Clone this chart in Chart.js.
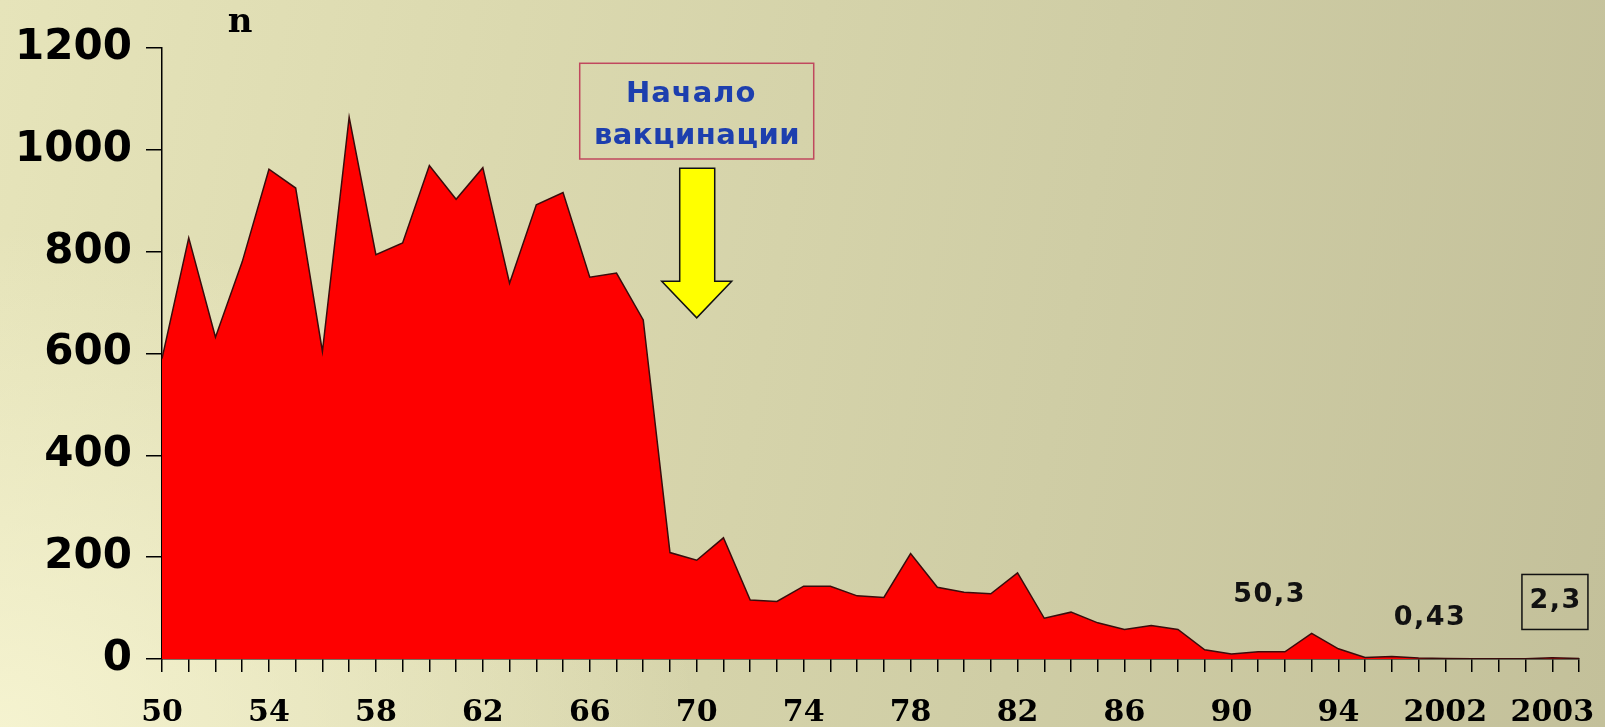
<!DOCTYPE html>
<html>
<head>
<meta charset="utf-8">
<script src="https://cdn.jsdelivr.net/npm/chart.js@4.4.1/dist/chart.umd.min.js"></script>
<style>
html, body { margin: 0; padding: 0; }
body {
    width: 1605px; height: 727px; overflow: hidden;
    background:
        radial-gradient(ellipse 700px 500px at 0% 100%, rgba(248, 246, 212, 0.85), rgba(248, 246, 212, 0) 100%),
        linear-gradient(100deg, #e6e4ba 0%, #dbd9af 30%, #cfcda5 65%, #c3c09a 100%);
}
#wrap { position: relative; width: 1605px; height: 727px; }
</style>
</head>
<body>
<div id="wrap"><canvas id="chart"></canvas></div>
<script>
// years on the axis (labels shown every 4th position, as in the slide)
const categories = [
    '50', '51', '52', '53', '54', '55', '56', '57', '58', '59',
    '60', '61', '62', '63', '64', '65', '66', '67', '68', '69',
    '70', '71', '72', '73', '74', '75', '76', '77', '78', '79',
    '80', '81', '82', '83', '84', '85', '86', '87', '88', '89',
    '90', '91', '92', '93', '94', '95', '96', '97',
    '2002', '', '', '', '2003', ''
];
const labelEvery = 4;

// cases, n
const cases = [
    590, 827, 632, 780, 962, 925, 604, 1064, 794, 817,
    969, 903, 965, 738, 892, 916, 750, 758, 666, 209,
    194, 238, 116, 113, 143, 143, 124, 121, 207, 141,
    131, 128, 169, 80, 92, 71, 58, 66, 58, 18,
    10, 14, 14, 50.3, 20, 3, 5, 2,
    1, 0.5, 0.43, 0.5, 2.3, 1
];

const yMin = 0;
const yMax = 1200;
const yStep = 200;

// notes on the chart: [text, category index, value]
const notes = [
    ['50,3', 41.4, 126],
    ['0,43', 47.4, 81]
];
const boxedNote = ['2,3', 52.1, 113];
const vaccStart = 20; // index where vaccination started

function spacedText(ctx, text, cx, cy, gap) {
    const w = ctx.measureText(text).width + gap * (text.length - 1);
    let x = cx - w / 2;
    ctx.textAlign = 'left';
    for (const ch of text) {
        ctx.fillText(ch, x, cy);
        x += ctx.measureText(ch).width + gap;
    }
}

const annotations = {
    id: 'annotations',
    afterDraw(chart) {
        const ctx = chart.ctx;
        const xs = chart.scales.x;
        const ys = chart.scales.y;
        const area = chart.chartArea;
        ctx.save();
        ctx.textBaseline = 'middle';

        // axis name
        ctx.fillStyle = '#000';
        ctx.font = 'bold 34px "DejaVu Serif"';
        ctx.textAlign = 'center';
        ctx.fillText('n', area.left + 78, area.top - 25);

        // boxed caption
        const cx = xs.getPixelForValue(vaccStart);
        const bTop = ys.getPixelForValue(1170);
        const bBot = ys.getPixelForValue(982);
        ctx.strokeStyle = '#c0485e';
        ctx.lineWidth = 1.5;
        ctx.strokeRect(cx - 117, bTop, 234, bBot - bTop);
        ctx.fillStyle = '#1d3fae';
        ctx.font = 'bold 29px "DejaVu Sans"';
        spacedText(ctx, 'Начало', cx - 6, ys.getPixelForValue(1108), 1);
        spacedText(ctx, 'вакцинации', cx, ys.getPixelForValue(1026), 0.5);

        // arrow
        const sTop = ys.getPixelForValue(964);
        const hBase = ys.getPixelForValue(742);
        const tip = ys.getPixelForValue(670);
        ctx.beginPath();
        ctx.moveTo(cx - 17, sTop);
        ctx.lineTo(cx + 18, sTop);
        ctx.lineTo(cx + 18, hBase);
        ctx.lineTo(cx + 35, hBase);
        ctx.lineTo(cx, tip);
        ctx.lineTo(cx - 35, hBase);
        ctx.lineTo(cx - 17, hBase);
        ctx.closePath();
        ctx.fillStyle = '#ffff00';
        ctx.fill();
        ctx.strokeStyle = '#111';
        ctx.lineWidth = 1.5;
        ctx.stroke();

        // value notes
        ctx.fillStyle = '#111';
        ctx.font = 'bold 27px "DejaVu Sans"';
        for (const [t, i, v] of notes) {
            spacedText(ctx, t, xs.getPixelForValue(i), ys.getPixelForValue(v), 1.5);
        }
        const [bt, bi, bv] = boxedNote;
        const bx = xs.getPixelForValue(bi);
        const by = ys.getPixelForValue(bv);
        spacedText(ctx, bt, bx, by, 1.5);
        ctx.strokeStyle = '#111';
        ctx.lineWidth = 1.5;
        ctx.strokeRect(bx - 33, by - 27, 66, 55);
        ctx.restore();
    }
};

new Chart(document.getElementById('chart'), {
    type: 'line',
    data: {
        labels: categories,
        datasets: [{
            data: cases,
            fill: 'origin',
            backgroundColor: '#fe0000',
            borderColor: '#3a0c0c',
            borderWidth: 1.5,
            pointRadius: 0,
            tension: 0
        }]
    },
    options: {
        responsive: true,
        maintainAspectRatio: false,
        animation: false,
        layout: { padding: { top: 48, right: 22, left: 0, bottom: 0 } },
        plugins: {
            legend: { display: false },
            tooltip: { enabled: false }
        },
        scales: {
            x: {
                offset: false,
                grid: { drawOnChartArea: false, tickLength: 13, color: '#000', lineWidth: 1.5 },
                border: { color: '#000', width: 1.5 },
                ticks: {
                    autoSkip: false,
                    maxRotation: 0,
                    padding: 26,
                    color: '#000',
                    font: { family: 'DejaVu Serif', weight: 'bold', size: 30, lineHeight: 1 },
                    callback: (v, i) => (i % labelEvery === 0 ? categories[i] : '')
                },
                afterFit: (s) => { s.height = 68; }
            },
            y: {
                min: yMin,
                max: yMax,
                grid: { drawOnChartArea: false, tickLength: 16, color: '#000', lineWidth: 1.5 },
                border: { color: '#000', width: 1.5 },
                ticks: {
                    stepSize: yStep,
                    padding: 14,
                    color: '#000',
                    font: { family: 'DejaVu Sans', weight: 'bold', size: 42 },
                    callback: (v) => String(v)
                },
                afterFit: (s) => { s.width = 162; }
            }
        }
    },
    plugins: [annotations]
});
</script>
</body>
</html>
